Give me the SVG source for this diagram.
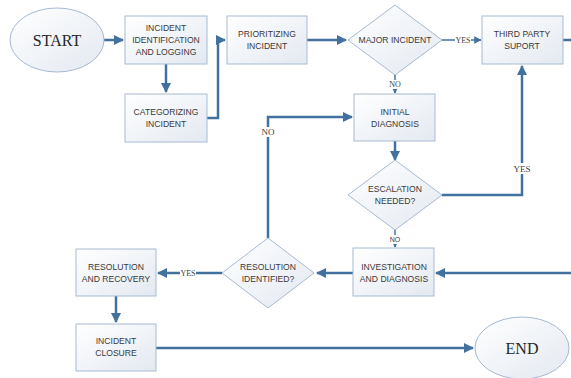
<svg xmlns="http://www.w3.org/2000/svg" width="571" height="378" viewBox="0 0 571 378">
<defs>
<linearGradient id="g" x1="0" y1="0" x2="1" y2="1">
<stop offset="0" stop-color="#ffffff"/>
<stop offset="1" stop-color="#e3e9f1"/>
</linearGradient>
<marker id="ah" viewBox="0 0 10 10" refX="9" refY="5" markerWidth="4" markerHeight="4" orient="auto" markerUnits="strokeWidth">
<path d="M0,0 L10,5 L0,10 z" fill="#41719c"/>
</marker>
<marker id="ahs" viewBox="0 0 10 10" refX="9" refY="5" markerWidth="5" markerHeight="5" orient="auto" markerUnits="strokeWidth">
<path d="M0,0 L10,5 L0,10 z" fill="#41719c"/>
</marker>
</defs>
<style>
.n{fill:url(#g);stroke:#a7bad0;stroke-width:1}
.t{font-family:"Liberation Sans",Arial,sans-serif;font-size:8.6px;fill:#3a3a3a;text-anchor:middle}
.s{font-family:"Liberation Serif","Times New Roman",serif;font-size:16px;fill:#262626;text-anchor:middle}
.l{font-family:"Liberation Serif","Times New Roman",serif;font-size:8px;fill:#404040;text-anchor:middle}
.c{fill:none;stroke:#41719c;stroke-width:2.5}
.c2{fill:none;stroke:#41719c;stroke-width:1.5}
.bg{fill:#ffffff}
</style>
<rect width="571" height="378" fill="#ffffff"/>
<g id="connectors">
<path class="c" d="M104,40 H123" marker-end="url(#ah)"/>
<path class="c" d="M166,64 V92" marker-end="url(#ah)"/>
<path class="c" d="M207,118 H218 V40 H225" marker-end="url(#ah)"/>
<path class="c" d="M307,40 H346" marker-end="url(#ah)"/>
<path class="c2" d="M442,40 H481" marker-end="url(#ahs)"/>
<path class="c2" d="M395,75 V93" marker-end="url(#ahs)"/>
<path class="c" d="M395,141 V160" marker-end="url(#ah)"/>
<path class="c" d="M442,195 H522 V66" marker-end="url(#ah)"/>
<path class="c2" d="M395,230 V247" marker-end="url(#ahs)"/>
<path class="c" d="M563,40 H571"/>
<path class="c" d="M571,273 H436" marker-end="url(#ah)"/>
<path class="c" d="M353,273 H317" marker-end="url(#ah)"/>
<path class="c" d="M268,238 V117 H352" marker-end="url(#ah)"/>
<path class="c" d="M222,273 H158" marker-end="url(#ah)"/>
<path class="c" d="M116,296 V322" marker-end="url(#ah)"/>
<path class="c" d="M156,348 H473" marker-end="url(#ah)"/>
<rect class="bg" x="455" y="36" width="16" height="8"/>
<text class="l" x="463" y="43">YES</text>
<rect class="bg" x="388" y="80" width="14" height="9"/>
<text class="l" x="395" y="87">NO</text>
<rect class="bg" x="387" y="235" width="16" height="9"/>
<text class="t" x="395" y="242" style="font-size:7px">NO</text>
<rect class="bg" x="180" y="269" width="16" height="8"/>
<text class="l" x="188" y="276">YES</text>
<rect class="bg" x="259" y="127" width="18" height="10"/>
<text class="l" x="268" y="135" style="font-size:9px">NO</text>
<rect class="bg" x="511" y="163" width="22" height="11"/>
<text class="l" x="522" y="172" style="font-size:9px">YES</text>
</g>
<g id="start">
<ellipse class="n" cx="57" cy="40" rx="47" ry="32"/>
<text class="s" x="57" y="46">START</text>
</g>
<g id="identification">
<rect class="n" x="125" y="16" width="82" height="48"/>
<text class="t" x="166" y="31">INCIDENT</text>
<text class="t" x="166" y="43">IDENTIFICATION</text>
<text class="t" x="166" y="55">AND LOGGING</text>
</g>
<g id="categorizing">
<rect class="n" x="125" y="94" width="82" height="48"/>
<text class="t" x="166" y="115">CATEGORIZING</text>
<text class="t" x="166" y="127">INCIDENT</text>
</g>
<g id="prioritizing">
<rect class="n" x="227" y="16" width="80" height="48"/>
<text class="t" x="267" y="37">PRIORITIZING</text>
<text class="t" x="267" y="49">INCIDENT</text>
</g>
<g id="major">
<polygon class="n" points="395,5 442,40 395,75 348,40"/>
<text class="t" x="395" y="43">MAJOR INCIDENT</text>
</g>
<g id="thirdparty">
<rect class="n" x="482" y="16" width="81" height="48"/>
<text class="t" x="522" y="37">THIRD PARTY</text>
<text class="t" x="522" y="49">SUPORT</text>
</g>
<g id="initial">
<rect class="n" x="354" y="94" width="81" height="47"/>
<text class="t" x="395" y="115">INITIAL</text>
<text class="t" x="395" y="127">DIAGNOSIS</text>
</g>
<g id="escalation">
<polygon class="n" points="395,160 442,195 395,230 348,195"/>
<text class="t" x="395" y="192">ESCALATION</text>
<text class="t" x="395" y="204">NEEDED?</text>
</g>
<g id="investigation">
<rect class="n" x="353" y="248" width="81" height="48"/>
<text class="t" x="394" y="270">INVESTIGATION</text>
<text class="t" x="394" y="282">AND DIAGNOSIS</text>
</g>
<g id="resolved">
<polygon class="n" points="268,238 314,273 268,308 222,273"/>
<text class="t" x="268" y="270">RESOLUTION</text>
<text class="t" x="268" y="282">IDENTIFIED?</text>
</g>
<g id="recovery">
<rect class="n" x="76" y="249" width="80" height="47"/>
<text class="t" x="116" y="270">RESOLUTION</text>
<text class="t" x="116" y="282">AND RECOVERY</text>
</g>
<g id="closure">
<rect class="n" x="76" y="324" width="80" height="47"/>
<text class="t" x="116" y="344">INCIDENT</text>
<text class="t" x="116" y="356">CLOSURE</text>
</g>
<g id="end">
<ellipse class="n" cx="522" cy="348" rx="47" ry="31"/>
<text class="s" x="522" y="354">END</text>
</g>
</svg>
